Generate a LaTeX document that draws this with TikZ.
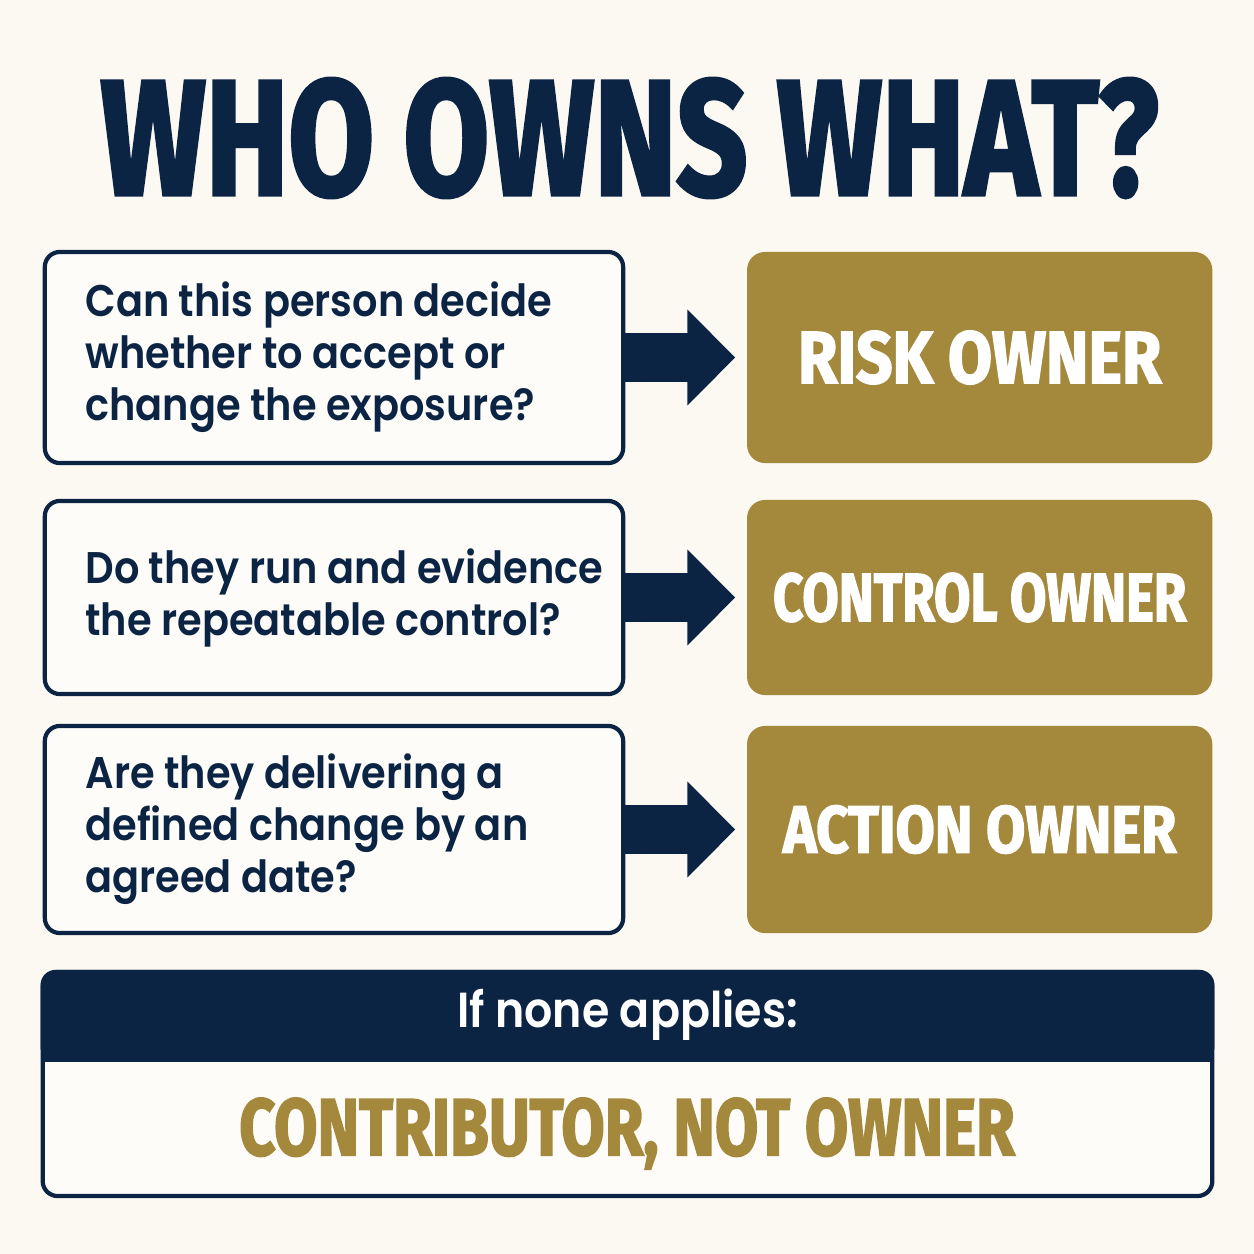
\documentclass[tikz,border=0pt]{standalone}
\usepackage{fontspec}
\setmainfont{Poppins}
\newfontfamily\qfont[FakeStretch=0.9]{Poppins SemiBold}
\newfontfamily\heavyfont[BoldFeatures={FakeBold=2.5}]{Fira Sans}
\usetikzlibrary{arrows.meta}
\usetikzlibrary{positioning}
\definecolor{navy}{HTML}{0C2444}
\definecolor{gold}{HTML}{A4883B}
\definecolor{cream}{HTML}{FBF9F1}
\newcommand{\heavy}[3]{%
    \resizebox{#1}{#2}{\heavyfont\bfseries #3}%
}
\newcommand{\RiskQ}{%
    Can this person decide\\
    whether to accept or\\
    change the exposure?%
}
\newcommand{\ControlQ}{%
    Do they run and evidence\\
    the repeatable control?%
}
\newcommand{\ActionQ}{%
    Are they delivering a\\
    defined change by an\\
    agreed date?%
}

\begin{document}
\begin{tikzpicture}[x=0.01cm, y=-0.01cm,
                    questionbox/.style={
                        draw=navy, line width=1.2pt, rounded corners=0.15cm,
                        fill=white!55!cream, minimum width=5.78cm, minimum height=#1
                    },
                    questiontext/.style={
                        anchor=west, align=left, inner sep=0pt, text=navy,
                        font=\qfont\fontsize{12.6}{14.8}\selectfont
                    },
                    ownerbox/.style={
                        fill=gold, rounded corners=0.18cm, inner sep=0pt,
                        minimum width=4.65cm, minimum height=#1, text=white
                    },
                    flow/.style={
                        draw=navy, line width=0.48cm,
                        -{Triangle[length=0.48cm, width=0.93cm]}
                    },
                    notebox/.style={
                        draw=navy, line width=1.2pt, rounded corners=0.15cm,
                        fill=white!55!cream, minimum width=11.69cm, minimum height=2.24cm
                    }]

    \fill[cream] (0,0) rectangle (1254,1254);

    \node[inner sep=0pt, text=navy] (title) at (629.5,138) {\heavy{10.57cm}{1.16cm}{WHO OWNS WHAT?}};

    % questions on the left
    \node[questionbox=2.11cm] (q1) at (334,357.5) {};
    \node[questionbox=1.93cm] (q2) at (334,597.5) {};
    \node[questionbox=2.07cm] (q3) at (334,829.5) {};

    \node[questiontext, right=0.42cm of q1.west] (q1t) {\RiskQ};
    \node[questiontext, right=0.42cm of q2.west] (q2t) {\ControlQ};
    \node[questiontext, right=0.42cm of q3.west] (q3t) {\ActionQ};

    % owners on the right
    \node[ownerbox=2.11cm, right=1.21cm of q1] (r1) {\heavy{3.63cm}{0.52cm}{RISK OWNER}};
    \node[ownerbox=1.95cm, right=1.21cm of q2] (r2) {\heavy{4.13cm}{0.48cm}{CONTROL OWNER}};
    \node[ownerbox=2.07cm, right=1.21cm of q3] (r3) {\heavy{3.93cm}{0.47cm}{ACTION OWNER}};

    \draw[flow] (q1.east) -- ([xshift=-0.11cm]r1.west);
    \draw[flow] (q2.east) -- ([xshift=-0.11cm]r2.west);
    \draw[flow] (q3.east) -- ([xshift=-0.11cm]r3.west);

    % fallback
    \node[notebox] (note) at (627.5,1084) {};
    \fill[navy, rounded corners=0.15cm] (note.north west) rectangle ([yshift=-0.92cm]note.north east);
    \fill[navy] ([yshift=-0.4cm]note.north west) rectangle ([yshift=-0.92cm]note.north east);
    \node[text=white, inner sep=0pt, font=\qfont\fontsize{14}{17}\selectfont] (none) at ([yshift=-0.45cm]note.north) {If none applies:};
    \node[text=gold, inner sep=0pt, anchor=base] (contrib) at (627,1155) {\heavy{7.75cm}{0.57cm}{CONTRIBUTOR, NOT OWNER}};

\end{tikzpicture}
\end{document}
